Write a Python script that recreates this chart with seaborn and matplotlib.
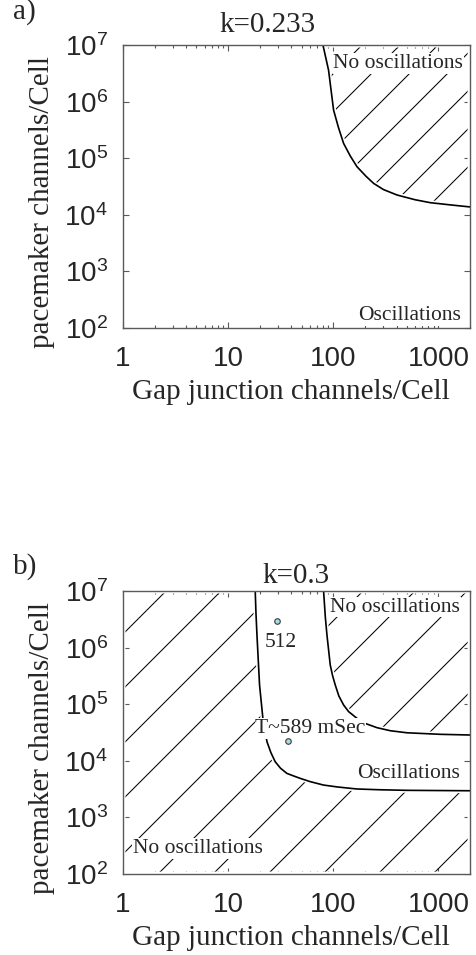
import matplotlib
matplotlib.use("Agg")
import matplotlib.pyplot as plt
from matplotlib.ticker import LogLocator, NullFormatter, FixedLocator, FixedFormatter
import seaborn as sns

# ---------------- data ----------------
# panel a) k=0.233 : boundary curve
gap_a = [79.8, 90.2, 100.7, 112, 125.4, 145, 168, 205, 242, 300, 405, 600, 839, 1300, 2000]
pace_a = [1e7, 3.6e6, 7.1e5, 3.5e5, 1.83e5, 1.1e5, 7.1e4, 4.8e4, 3.6e4, 2.8e4, 2.24e4,
          1.85e4, 1.64e4, 1.5e4, 1.38e4]

# panel b) k=0.3 : lower-left boundary and upper-right boundary
gap_b_low = [18.1, 18.4, 18.8, 19.9, 21.4, 23.4, 25.5, 28.0, 31.5, 36.2, 42, 48.5, 60,
             80.9, 110, 168, 280, 503, 2000]
pace_b_low = [1e7, 4e6, 1.67e6, 2.18e5, 5.64e4, 2.18e4, 1.4e4, 9.66e3, 7.4e3, 6.0e3, 5.4e3,
              4.9e3, 4.3e3, 3.73e3, 3.45e3, 3.18e3, 3.08e3, 3.01e3, 2.96e3]
gap_b_high = [80.9, 84, 87.1, 93.6, 98.5, 104.5, 113, 125.4, 140, 168, 200, 261, 350, 503,
              1045, 2000]
pace_b_high = [1e7, 3.5e6, 1.67e6, 4.93e5, 3.2e5, 2.18e5, 1.4e5, 9.7e4, 7.4e4, 5.64e4,
               4.6e4, 3.85e4, 3.4e4, 3.13e4, 2.94e4, 2.86e4]

# highlighted simulation points in panel b)
pt_gap = [29.1, 36.7]
pt_pace = [2.95e6, 2.24e4]
pt_labels = ["512", "T~589 mSec"]

x_ticks = [1, 10, 100, 1000]
x_tick_labels = ["1", "10", "100", "1000"]
y_ticks = [1e2, 1e3, 1e4, 1e5, 1e6, 1e7]
y_tick_labels = [r"$\mathdefault{10^{2}}$", r"$\mathdefault{10^{3}}$", r"$\mathdefault{10^{4}}$",
                 r"$\mathdefault{10^{5}}$", r"$\mathdefault{10^{6}}$", r"$\mathdefault{10^{7}}$"]
x_lim = (1, 2000)
y_lim = (1e2, 1e7)
titles = ["k=0.233", "k=0.3"]
panel_tags = ["a)", "b)"]
xlabel_text = "Gap junction channels/Cell"
ylabel_text = "pacemaker channels/Cell"

# ---------------- style ----------------
sns.set_theme(style="white")
plt.rcParams["font.family"] = ["Liberation Sans", "DejaVu Sans"]
plt.rcParams["mathtext.fontset"] = "custom"
plt.rcParams["mathtext.rm"] = "Liberation Sans"
plt.rcParams["mathtext.it"] = "Liberation Sans:italic"
plt.rcParams["mathtext.bf"] = "Liberation Sans:bold"
SERIF = ["Liberation Serif", "DejaVu Serif"]
SPINE = "#5a5a5a"

fig = plt.figure(figsize=(4.77, 9.55), dpi=100)
ax1 = fig.add_axes([0.2579, 0.6565, 0.7275, 0.2963])
ax2 = fig.add_axes([0.2579, 0.0848, 0.7275, 0.2963])


def style_axes(ax):
    ax.set_xscale("log")
    ax.set_yscale("log")
    ax.set_xlim(*x_lim)
    ax.set_ylim(*y_lim)
    ax.xaxis.set_major_locator(FixedLocator(x_ticks))
    ax.xaxis.set_major_formatter(FixedFormatter(x_tick_labels))
    ax.xaxis.set_minor_locator(LogLocator(base=10, subs=[2, 3, 4, 5, 6, 7, 8, 9]))
    ax.xaxis.set_minor_formatter(NullFormatter())
    ax.yaxis.set_major_locator(FixedLocator(y_ticks))
    ax.yaxis.set_major_formatter(FixedFormatter(y_tick_labels))
    ax.yaxis.set_minor_locator(LogLocator(base=10, subs=[2, 5]))
    ax.yaxis.set_minor_formatter(NullFormatter())
    ax.tick_params(which="both", direction="in", top=True, right=True, bottom=True, left=True,
                   color=SPINE, width=0.8)
    ax.tick_params(which="major", length=4)
    ax.tick_params(which="minor", length=2.2)
    ax.tick_params(axis="x", which="major", labelsize=20, pad=13)
    ax.tick_params(axis="y", which="major", labelsize=20, pad=11)
    for s in ax.spines.values():
        s.set_color(SPINE)
        s.set_linewidth(1.0)
        s.set_visible(True)
    ax.set_xlabel(xlabel_text, family=SERIF, fontsize=21, va="center")
    ax.xaxis.set_label_coords(0.484, -0.225)
    ax.set_ylabel(ylabel_text, family=SERIF, fontsize=21, va="center")
    ax.yaxis.set_label_coords(-0.233, 0.445)


def add_hatch(ax, poly, spacing, c0):
    """Sparse 45-degree hatch lines, clipped to the region polygon."""
    W = ax.bbox.width
    H = ax.bbox.height
    path = poly.get_paths()[0]
    k_min = int((-W - c0) // spacing) - 1
    k_max = int((H - c0) // spacing) + 1
    for k in range(k_min, k_max + 1):
        c = c0 + k * spacing
        x0 = max(0.0, -c)
        x1 = min(W, H - c)
        if x1 <= x0:
            continue
        ln, = ax.plot([x0 / W, x1 / W], [(x0 + c) / H, (x1 + c) / H],
                      transform=ax.transAxes, color="black", lw=0.75, zorder=1.2)
        ln.set_clip_path(path, ax.transData)


for ax in (ax1, ax2):
    style_axes(ax)

# ---------------- panel a ----------------
poly_a = ax1.fill_between(gap_a, pace_a, y_lim[1], facecolor="none", edgecolor="white",
                          linewidth=3.5, zorder=1.3)
add_hatch(ax1, poly_a, 38, 6)
sns.lineplot(x=gap_a, y=pace_a, ax=ax1, color="black", lw=1.2, sort=False,
             estimator=None, zorder=2)

txt_kw = dict(family=SERIF, fontsize=15.5, zorder=4,
              bbox=dict(facecolor="white", edgecolor="none", pad=0.5))
ax1.text(0.980, 0.919, "No oscillations", transform=ax1.transAxes, ha="right", va="baseline", **txt_kw)
ax1.text(0.974, 0.028, "Oscillations", transform=ax1.transAxes, ha="right", va="baseline", **txt_kw)
ax1.text(0.416, 1.047, titles[0], transform=ax1.transAxes, ha="center", va="baseline",
         family=SERIF, fontsize=21)

# ---------------- panel b ----------------
poly_low = ax2.fill_between([x_lim[0]] + gap_b_low, y_lim[0], [y_lim[1]] + pace_b_low,
                            facecolor="none", edgecolor="white", linewidth=3.5, zorder=1.3)
poly_high = ax2.fill_between(gap_b_high, pace_b_high, y_lim[1], facecolor="none",
                             edgecolor="white", linewidth=3.5, zorder=1.3)
add_hatch(ax2, poly_low, 55, -200)
add_hatch(ax2, poly_high, 52, -9)
sns.lineplot(x=gap_b_low, y=pace_b_low, ax=ax2, color="black", lw=1.2, sort=False,
             estimator=None, zorder=2)
sns.lineplot(x=gap_b_high, y=pace_b_high, ax=ax2, color="black", lw=1.2, sort=False,
             estimator=None, zorder=2)
sns.scatterplot(x=pt_gap, y=pt_pace, ax=ax2, s=16, color="#a8dce4", edgecolor="#3a3a3a",
                linewidth=0.8, zorder=5)
offsets = [(-12.7, -25.7), (-32.3, 8)]
for gx, py, lab, off in zip(pt_gap, pt_pace, pt_labels, offsets):
    ax2.annotate(lab, (gx, py), xytext=off, textcoords="offset pixels", ha="left",
                 va="baseline", **txt_kw)
ax2.text(0.971, 0.927, "No oscillations", transform=ax2.transAxes, ha="right", va="baseline", **txt_kw)
ax2.text(0.971, 0.339, "Oscillations", transform=ax2.transAxes, ha="right", va="baseline", **txt_kw)
ax2.text(0.029, 0.074, "No oscillations", transform=ax2.transAxes, ha="left", va="baseline", **txt_kw)
ax2.text(0.5, 1.027, titles[1], transform=ax2.transAxes, ha="center", va="baseline",
         family=SERIF, fontsize=21)

fig.text(13 / 477, 1 - 19 / 955, panel_tags[0], ha="left", va="baseline", family=SERIF, fontsize=21)
fig.text(13 / 477, 1 - 574 / 955, panel_tags[1], ha="left", va="baseline", family=SERIF, fontsize=21)

fig.savefig("out.png", dpi=100, facecolor="white")
